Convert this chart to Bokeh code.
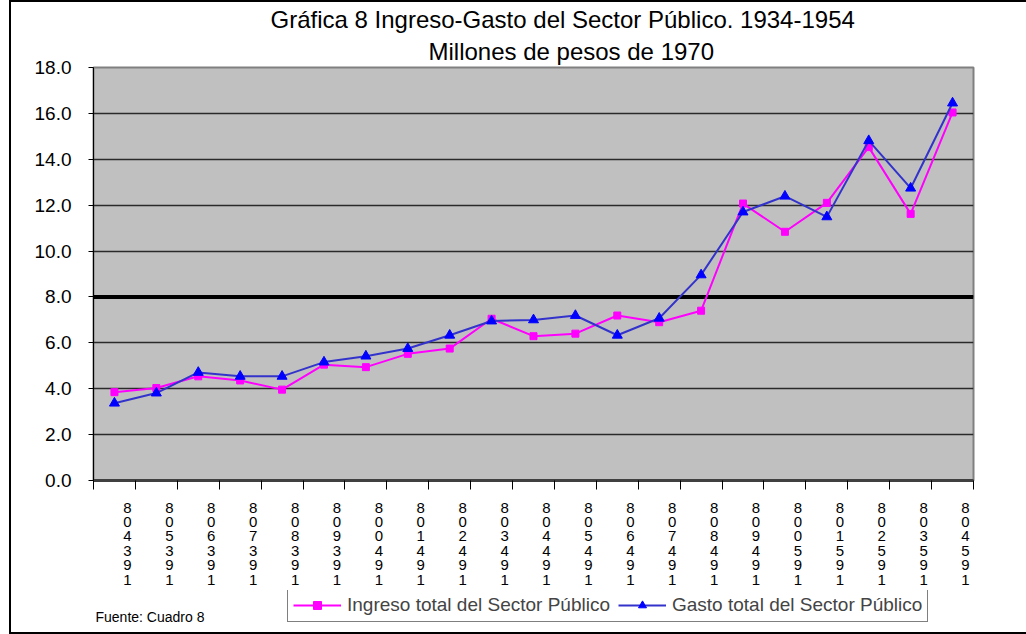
from bokeh.plotting import figure
from bokeh.models import Range1d, FixedTicker, LinearAxis, Span, Label, Title
from bokeh.layouts import column
from bokeh.embed import file_html
from bokeh.resources import INLINE

years = list(range(1934, 1955))
ingreso = [3.85, 4.03, 4.54, 4.36, 3.96, 5.05, 4.94, 5.52, 5.75, 7.05, 6.29,
           6.40, 7.19, 6.90, 7.40, 12.07, 10.84, 12.10, 14.53, 11.62, 16.04]
gasto = [3.37, 3.81, 4.71, 4.54, 4.54, 5.16, 5.42, 5.75, 6.33, 6.95, 7.00,
         7.19, 6.33, 7.07, 8.96, 11.70, 12.39, 11.49, 14.81, 12.74, 16.45]
y_ticks = [0, 2, 4, 6, 8, 10, 12, 14, 16, 18]
x_tick_labels = ["8\n0\n4\n3\n9\n1", "8\n0\n5\n3\n9\n1", "8\n0\n6\n3\n9\n1",
                 "8\n0\n7\n3\n9\n1", "8\n0\n8\n3\n9\n1", "8\n0\n9\n3\n9\n1",
                 "8\n0\n0\n4\n9\n1", "8\n0\n1\n4\n9\n1", "8\n0\n2\n4\n9\n1",
                 "8\n0\n3\n4\n9\n1", "8\n0\n4\n4\n9\n1", "8\n0\n5\n4\n9\n1",
                 "8\n0\n6\n4\n9\n1", "8\n0\n7\n4\n9\n1", "8\n0\n8\n4\n9\n1",
                 "8\n0\n9\n4\n9\n1", "8\n0\n0\n5\n9\n1", "8\n0\n1\n5\n9\n1",
                 "8\n0\n2\n5\n9\n1", "8\n0\n3\n5\n9\n1", "8\n0\n4\n5\n9\n1"]
title_1 = "Gráfica 8  Ingreso-Gasto del Sector Público. 1934-1954"
title_2 = "Millones de pesos de 1970"
name_ingreso = "Ingreso total del Sector Público"
name_gasto = "Gasto total del Sector Público"
source_note = "Fuente: Cuadro 8"

FONT = "Liberation Sans"
C_ING, C_GAS_LINE, C_GAS_MARK = "#FF00FF", "#3333CC", "#0000FF"

x0, x1 = years[0] - 0.5, years[-1] + 0.5
p = figure(width=1015, height=588, x_range=Range1d(x0, x1), y_range=Range1d(0, 18),
           output_backend="svg", toolbar_location=None, x_axis_type=None,
           min_border_left=82, min_border_top=65, min_border_right=53,
           min_border_bottom=110, background_fill_color="#C0C0C0",
           border_fill_color="white")
p.outline_line_color = "#808080"
p.outline_line_width = 2

# titles (line 2 first: nearest the plot)
t2 = Title(text=title_2, align="left", offset=335, text_font=FONT,
           text_font_size="24px", text_font_style="normal", text_color="black",
           standoff=6, text_line_height=0.9)
t1 = Title(text=title_1, align="left", offset=177, text_font=FONT,
           text_font_size="24px", text_font_style="normal", text_color="black",
           standoff=0, text_line_height=0.9)
p.add_layout(t2, "above")
p.add_layout(t1, "above")

# y axis
ya = p.yaxis[0]
ya.ticker = FixedTicker(ticks=y_ticks)
ya.major_label_overrides = {v: f"{v:.1f}" for v in y_ticks}
ya.major_label_text_font = FONT
ya.major_label_text_font_size = "19px"
ya.major_label_text_color = "black"
ya.axis_line_color = "black"
ya.major_tick_line_color = "black"
ya.major_tick_out = 5
ya.major_tick_in = 0
ya.minor_tick_line_color = None
ya.major_label_standoff = 17
p.ygrid.grid_line_color = "#2a2a2a"
p.ygrid.grid_line_width = 1.5

# x axis: ticks between categories
xa = LinearAxis(ticker=FixedTicker(ticks=[x0 + i for i in range(len(years) + 1)]))
xa.major_label_text_font_size = "1px"
xa.major_label_text_color = None
xa.major_label_standoff = 0
xa.axis_line_color = "#404040"
xa.axis_line_width = 3
xa.major_tick_line_color = "black"
xa.major_tick_out = 9
xa.major_tick_in = 0
xa.minor_tick_line_color = None
p.add_layout(xa, "below")

# label axis, shifted slightly right like the original
shift = 0.31
p.extra_x_ranges = {"lab": Range1d(x0 - shift, x1 - shift)}
la = LinearAxis(x_range_name="lab", ticker=FixedTicker(ticks=years),
                major_label_overrides={y: l for y, l in zip(years, x_tick_labels)})
la.axis_line_color = None
la.major_tick_line_color = None
la.minor_tick_line_color = None
la.major_tick_out = 0
la.major_tick_in = 0
la.major_label_standoff = 9
la.major_label_text_font = FONT
la.major_label_text_font_size = "15px"
la.major_label_text_color = "black"
la.major_label_text_line_height = 0.85
p.add_layout(la, "below")

# thick reference line at 8.0
p.add_layout(Span(location=8, dimension="width", line_color="black",
                  line_width=4, level="underlay"))

p.line(years, ingreso, line_color=C_ING, line_width=2)
p.scatter(years, ingreso, marker="square", size=7, fill_color=C_ING, line_color=C_ING)
p.line(years, gasto, line_color=C_GAS_LINE, line_width=2)
p.scatter(years, gasto, marker="triangle", size=10, fill_color=C_GAS_MARK,
          line_color=C_GAS_MARK)

# bottom strip: legend and source note (series drawn off-range, only the key shows)
q = figure(width=1015, height=42, x_range=Range1d(0, 1), y_range=Range1d(0, 1),
           output_backend="svg", toolbar_location=None, x_axis_type=None,
           y_axis_type=None, min_border=0, outline_line_color=None,
           background_fill_color="white", border_fill_color="white")
q.grid.visible = False
q.line(years, ingreso, line_color=C_ING, line_width=2, legend_label=name_ingreso)
q.scatter(years, ingreso, marker="square", size=7, fill_color=C_ING,
          line_color=C_ING, legend_label=name_ingreso)
q.line(years, gasto, line_color=C_GAS_LINE, line_width=2, legend_label=name_gasto)
q.scatter(years, gasto, marker="triangle", size=10, fill_color=C_GAS_MARK,
          line_color=C_GAS_MARK, legend_label=name_gasto)
lg = q.legend[0]
lg.location = (194, 10)
lg.orientation = "horizontal"
lg.label_text_font = FONT
lg.label_text_font_size = "19px"
lg.glyph_width = 48
lg.glyph_height = 20
lg.label_standoff = 6
lg.spacing = 8
lg.padding = 5
lg.margin = 0
lg.border_line_color = "black"
lg.border_line_width = 1

q.add_layout(Label(x=2, y=8, x_units="screen", y_units="screen",
                   text=source_note, text_font=FONT, text_font_size="14px",
                   text_color="black"))

layout = column(p, q, spacing=0,
                styles={"margin-left": "9px", "border-left": "2px solid black",
                        "border-top": "2px solid black",
                        "border-bottom": "2px solid black"})

open("out.html", "w").write(file_html(layout, INLINE))
